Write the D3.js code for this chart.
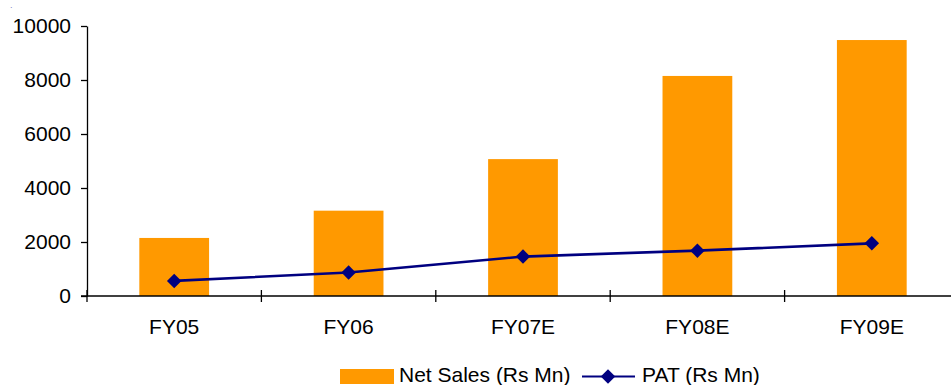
<!DOCTYPE html>
<html>
<head>
<meta charset="utf-8">
<script src="https://cdn.jsdelivr.net/npm/d3@7/dist/d3.min.js"></script>
<style>
  html, body { margin: 0; padding: 0; background: #fff; }
  svg { display: block; font-family: "Liberation Sans", Arial, sans-serif; }
</style>
</head>
<body>
<svg id="chart" width="951" height="385"></svg>
<script>
// Net sales and profit after tax, FY05 to FY09E (Rs Mn)
const categories = ["FY05", "FY06", "FY07E", "FY08E", "FY09E"];
const netSales = [2150, 3160, 5070, 8150, 9480];
const pat = [560, 870, 1460, 1680, 1950];
const yTicks = [0, 2000, 4000, 6000, 8000, 10000];

const svg = d3.select("#chart");
const plotLeft = 87, plotRight = 959, plotTop = 26, plotBottom = 296;

const x = d3.scaleBand().domain(categories).range([plotLeft, plotRight]).padding(0);
const y = d3.scaleLinear().domain([0, 10000]).range([plotBottom, plotTop]);

const barColor = "#FF9900";
const lineColor = "#000080";

// bars
const bw = x.bandwidth() * 0.4;
svg.append("g").selectAll("rect")
  .data(categories)
  .join("rect")
  .attr("x", d => x(d) + (x.bandwidth() - bw) / 2)
  .attr("width", bw)
  .attr("y", (d, i) => y(netSales[i]))
  .attr("height", (d, i) => y(0) - y(netSales[i]))
  .attr("fill", barColor);

// y axis
const yAxis = svg.append("g")
  .attr("transform", `translate(${plotLeft},0)`)
  .call(d3.axisLeft(y).tickValues(yTicks).tickSize(6).tickSizeOuter(0).tickPadding(10).tickFormat(d3.format("d")));
yAxis.selectAll("text").attr("font-size", 21).attr("fill", "#000").attr("font-family", "Liberation Sans, Arial, sans-serif");
yAxis.selectAll("line, path").attr("stroke", "#000").attr("stroke-width", 1.3);

// x axis: baseline, boundary ticks and category labels
const xAxis = svg.append("g");
xAxis.append("line")
  .attr("x1", plotLeft - 6).attr("x2", plotRight)
  .attr("y1", y(0)).attr("y2", y(0))
  .attr("stroke", "#000").attr("stroke-width", 1.6);
const bounds = categories.map(d => x(d)).concat([x.range()[1]]);
xAxis.selectAll(".bt")
  .data(bounds)
  .join("line")
  .attr("class", "bt")
  .attr("x1", d => d).attr("x2", d => d)
  .attr("y1", y(0) - 6).attr("y2", y(0) + 6)
  .attr("stroke", "#000").attr("stroke-width", 1.3);
xAxis.selectAll(".cl")
  .data(categories)
  .join("text")
  .attr("class", "cl")
  .attr("x", d => x(d) + x.bandwidth() / 2)
  .attr("y", 334)
  .attr("text-anchor", "middle")
  .attr("font-size", 21)
  .attr("fill", "#000")
  .text(d => d);

// PAT line with diamond markers
const line = d3.line()
  .x((d, i) => x(categories[i]) + x.bandwidth() / 2)
  .y(d => y(d));
svg.append("path")
  .datum(pat)
  .attr("d", line)
  .attr("fill", "none")
  .attr("stroke", lineColor)
  .attr("stroke-width", 2.6);

const diamond = d3.symbol().type(d3.symbolSquare).size(105);
svg.append("g").selectAll("path")
  .data(pat)
  .join("path")
  .attr("d", diamond)
  .attr("transform", (d, i) => `translate(${x(categories[i]) + x.bandwidth() / 2},${y(d)}) rotate(45)`)
  .attr("fill", lineColor);

// legend
const lg = svg.append("g");
lg.append("rect").attr("x", 340).attr("y", 369).attr("width", 54).attr("height", 15).attr("fill", barColor);
lg.append("text").attr("x", 399).attr("y", 382).attr("font-size", 21).attr("fill", "#000").text("Net Sales (Rs Mn)");
lg.append("line").attr("x1", 582).attr("x2", 635).attr("y1", 376.5).attr("y2", 376.5)
  .attr("stroke", lineColor).attr("stroke-width", 2.2);
lg.append("path").attr("d", diamond).attr("transform", "translate(608,376.5) rotate(45)").attr("fill", lineColor);
lg.append("text").attr("x", 642).attr("y", 382).attr("font-size", 21).attr("fill", "#000").text("PAT (Rs Mn)");

// small mark in the top-left corner
svg.append("text").attr("x", 10).attr("y", 8).attr("font-size", 9).attr("fill", "#7f7fbf").text(".");
</script>
</body>
</html>
